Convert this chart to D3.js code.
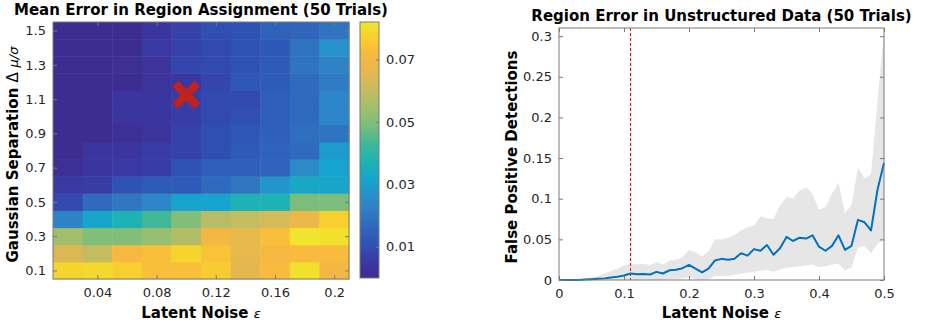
<!DOCTYPE html>
<html>
<head>
<meta charset="utf-8">
<script src="https://cdn.jsdelivr.net/npm/d3@7.9.0/dist/d3.min.js"></script>
<style>
  body { margin: 0; background: #fff; }
  svg { display: block; font-family: "DejaVu Sans", sans-serif; }
  .ttl { font-weight: bold; font-size: 15px; fill: #000; }
  .lbl { font-weight: bold; font-size: 15px; fill: #000; }
</style>
</head>
<body>
<svg width="926" height="327"></svg>
<script>
// ---- data: left heatmap ----
const noiseLevels = [0.02, 0.04, 0.06, 0.08, 0.10, 0.12, 0.14, 0.16, 0.18, 0.20];
const separations = [0.1, 0.2, 0.3, 0.4, 0.5, 0.6, 0.7, 0.8, 0.9, 1.0, 1.1, 1.2, 1.3, 1.4, 1.5];
// rows follow separations (0.1 first), columns follow noiseLevels
const meanError = [
  [0.078, 0.079, 0.077, 0.073, 0.073, 0.076, 0.066, 0.072, 0.081, 0.070],
  [0.064, 0.060, 0.071, 0.073, 0.078, 0.074, 0.067, 0.071, 0.072, 0.072],
  [0.055, 0.050, 0.050, 0.053, 0.057, 0.070, 0.067, 0.073, 0.082, 0.081],
  [0.023, 0.032, 0.037, 0.043, 0.050, 0.058, 0.060, 0.063, 0.068, 0.077],
  [0.009, 0.017, 0.020, 0.024, 0.031, 0.031, 0.037, 0.037, 0.049, 0.049],
  [0.005, 0.006, 0.011, 0.013, 0.013, 0.017, 0.020, 0.028, 0.033, 0.032],
  [0.001, 0.004, 0.005, 0.006, 0.011, 0.014, 0.014, 0.015, 0.025, 0.031],
  [0.000, 0.004, 0.004, 0.006, 0.007, 0.010, 0.013, 0.015, 0.017, 0.029],
  [0.000, 0.000, 0.001, 0.003, 0.007, 0.010, 0.012, 0.014, 0.018, 0.019],
  [0.000, 0.000, 0.004, 0.004, 0.006, 0.009, 0.010, 0.014, 0.017, 0.024],
  [0.000, 0.000, 0.004, 0.004, 0.006, 0.009, 0.009, 0.014, 0.017, 0.024],
  [0.000, 0.000, 0.000, 0.003, 0.004, 0.008, 0.012, 0.013, 0.017, 0.021],
  [0.000, 0.000, 0.001, 0.003, 0.008, 0.009, 0.011, 0.013, 0.019, 0.023],
  [0.000, 0.000, 0.000, 0.005, 0.007, 0.009, 0.011, 0.012, 0.019, 0.027],
  [0.000, 0.000, 0.000, 0.004, 0.007, 0.010, 0.011, 0.015, 0.016, 0.019]
];
const chosenPoint = { noise: 0.10, sep: 1.125 };
const heatXTicks = [0.04, 0.08, 0.12, 0.16, 0.2];
const heatYTicks = [0.1, 0.3, 0.5, 0.7, 0.9, 1.1, 1.3, 1.5];
const colorTicks = [0.01, 0.03, 0.05, 0.07];
const colorMax = 0.082;

// ---- data: right line chart ----
const epsilons = [0, 0.01, 0.02, 0.03, 0.04, 0.05, 0.06, 0.07, 0.08, 0.09, 0.10,
  0.11, 0.12, 0.13, 0.14, 0.15, 0.16, 0.17, 0.18, 0.19, 0.20,
  0.21, 0.22, 0.23, 0.24, 0.25, 0.26, 0.27, 0.28, 0.29, 0.30,
  0.31, 0.32, 0.33, 0.34, 0.35, 0.36, 0.37, 0.38, 0.39, 0.40,
  0.41, 0.42, 0.43, 0.44, 0.45, 0.46, 0.47, 0.48, 0.49, 0.50];
const meanFP = [0, 0, 0, 0, 0.0005, 0.001, 0.0015, 0.002, 0.003, 0.004, 0.0055,
  0.008, 0.007, 0.0075, 0.0068, 0.010, 0.008, 0.012, 0.0125, 0.0145, 0.0185,
  0.014, 0.0095, 0.014, 0.024, 0.026, 0.025, 0.026, 0.033, 0.030, 0.038,
  0.036, 0.043, 0.031, 0.039, 0.053, 0.048, 0.052, 0.051, 0.055, 0.041,
  0.036, 0.042, 0.055, 0.037, 0.042, 0.074, 0.071, 0.061, 0.111, 0.144];
const upperFP = [0, 0, 0, 0, 0.001, 0.003, 0.005, 0.008, 0.011, 0.014, 0.018,
  0.020, 0.019, 0.020, 0.018, 0.022, 0.019, 0.024, 0.025, 0.028, 0.037,
  0.034, 0.029, 0.035, 0.050, 0.050, 0.052, 0.055, 0.061, 0.065, 0.067,
  0.078, 0.076, 0.075, 0.092, 0.102, 0.100, 0.110, 0.114, 0.106, 0.086,
  0.090, 0.106, 0.120, 0.082, 0.092, 0.139, 0.125, 0.130, 0.220, 0.305];
const lowerFP = [0, 0, 0, 0, 0, 0, 0, 0, 0, 0, 0,
  0, 0, 0, 0, 0, 0, 0.001, 0.001, 0.002, 0.003,
  0.001, 0, 0.001, 0.005, 0.005, 0.005, 0.006, 0.008, 0.009, 0.010,
  0.011, 0.012, 0.010, 0.013, 0.015, 0.016, 0.017, 0.018, 0.019, 0.016,
  0.017, 0.019, 0.020, 0.012, 0.015, 0.040, 0.042, 0.033, 0.045, 0.049];
const threshold = 0.11;
const lineXTicks = [0, 0.1, 0.2, 0.3, 0.4, 0.5];
const lineYTicks = [0, 0.05, 0.1, 0.15, 0.2, 0.25, 0.3];

// parula-like colormap
const cmapStops = [0, 0.06, 0.13, 0.2, 0.26, 0.32, 0.375, 0.45, 0.52, 0.6, 0.68, 0.74, 0.8, 0.87, 0.93, 1];
const cmapColors = ['#3e2d91', '#3a38a2', '#2f52b5', '#2f68bd', '#307cc3', '#2a8fcb', '#16a2ce', '#1db2b4',
  '#3cb89a', '#7dbe7a', '#a9bf69', '#c8bb60', '#e2b850', '#f8b840', '#f8cd2f', '#f0e52c'];
const color = d3.scaleLinear()
  .domain(cmapStops.map(t => t * colorMax))
  .range(cmapColors)
  .clamp(true);

const svg = d3.select('svg');
const boxColor = '#7a7a7a';

function styleAxis(g) {
  g.attr('font-family', '"DejaVu Sans", sans-serif').attr('font-size', 13);
  g.select('.domain').remove();
  g.selectAll('.tick line').attr('stroke', boxColor);
  g.selectAll('.tick text').attr('fill', '#262626');
}

// ===== left heatmap =====
const H = { x0: 53, x1: 349, y0: 22, y1: 279 };
const hx = d3.scaleLinear().domain([0.01, 0.21]).range([H.x0, H.x1]);
const hy = d3.scaleLinear().domain([0.05, 1.55]).range([H.y1, H.y0]);

const cells = [];
separations.forEach((s, i) => {
  noiseLevels.forEach((n, j) => cells.push({ s, n, v: meanError[i][j] }));
});

svg.append('g').selectAll('rect').data(cells).join('rect')
  .attr('x', d => hx(d.n - 0.01))
  .attr('y', d => hy(d.s + 0.05))
  .attr('width', d => hx(d.n + 0.01) - hx(d.n - 0.01) + 0.5)
  .attr('height', d => hy(d.s - 0.05) - hy(d.s + 0.05) + 0.5)
  .attr('fill', d => color(d.v));

// chosen point marker
const mx = hx(chosenPoint.noise), my = hy(chosenPoint.sep);
const mk = svg.append('g').attr('stroke', '#c1221b').attr('stroke-width', 8);
mk.append('line').attr('x1', mx - 11).attr('y1', my - 11).attr('x2', mx + 11).attr('y2', my + 11);
mk.append('line').attr('x1', mx - 11).attr('y1', my + 11).attr('x2', mx + 11).attr('y2', my - 11);

svg.append('g').attr('transform', `translate(0,${H.y1})`)
  .call(d3.axisBottom(hx).tickValues(heatXTicks).tickFormat(d3.format('')).tickSizeInner(-4).tickPadding(9))
  .call(styleAxis);
svg.append('g').attr('transform', `translate(0,${H.y0})`)
  .call(d3.axisTop(hx).tickValues(heatXTicks).tickFormat('').tickSizeInner(-4))
  .call(styleAxis);
svg.append('g').attr('transform', `translate(${H.x0},0)`)
  .call(d3.axisLeft(hy).tickValues(heatYTicks).tickFormat(d3.format('.1f')).tickSizeInner(-4).tickPadding(7))
  .call(styleAxis);
svg.append('g').attr('transform', `translate(${H.x1},0)`)
  .call(d3.axisRight(hy).tickValues(heatYTicks).tickFormat('').tickSizeInner(-4))
  .call(styleAxis);
svg.append('rect').attr('x', H.x0).attr('y', H.y0)
  .attr('width', H.x1 - H.x0).attr('height', H.y1 - H.y0)
  .attr('fill', 'none').attr('stroke', boxColor);

svg.append('text').attr('class', 'ttl')
  .attr('x', (H.x0 + H.x1) / 2).attr('y', 15).attr('text-anchor', 'middle')
  .text('Mean Error in Region Assignment (50 Trials)');

const hxl = svg.append('text').attr('class', 'lbl')
  .attr('x', (H.x0 + H.x1) / 2).attr('y', 318).attr('text-anchor', 'middle');
hxl.append('tspan').text('Latent Noise ');
hxl.append('tspan').attr('font-weight', 'normal').attr('font-style', 'italic').attr('font-size', 13).text('ε');

const hyl = svg.append('text').attr('class', 'lbl')
  .attr('transform', `translate(18,${(H.y0 + H.y1) / 2 + 4}) rotate(-90)`)
  .attr('text-anchor', 'middle');
hyl.append('tspan').text('Gaussian Separation ');
hyl.append('tspan').attr('font-weight', 'normal').text('Δ ');
hyl.append('tspan').attr('font-weight', 'normal').attr('font-style', 'italic').attr('font-size', 13).text('μ/σ');

// colorbar
const C = { x0: 360, x1: 379, y0: 22, y1: 278 };
const cy = d3.scaleLinear().domain([0, colorMax]).range([C.y1, C.y0]);
const defs = svg.append('defs');
const grad = defs.append('linearGradient').attr('id', 'cbar')
  .attr('x1', 0).attr('y1', 1).attr('x2', 0).attr('y2', 0);
grad.selectAll('stop').data(cmapStops).join('stop')
  .attr('offset', d => d)
  .attr('stop-color', (d, i) => cmapColors[i]);
svg.append('rect').attr('x', C.x0).attr('y', C.y0)
  .attr('width', C.x1 - C.x0).attr('height', C.y1 - C.y0)
  .attr('fill', 'url(#cbar)').attr('stroke', boxColor);
svg.append('g').attr('transform', `translate(${C.x1},0)`)
  .call(d3.axisRight(cy).tickValues(colorTicks).tickFormat(d3.format('.2f')).tickSizeInner(-3).tickPadding(7))
  .call(styleAxis);

// ===== right line chart =====
const R = { x0: 559, x1: 884, y0: 28, y1: 280 };
const rx = d3.scaleLinear().domain([0, 0.5]).range([R.x0, R.x1]);
const ry = d3.scaleLinear().domain([0, 0.31]).range([R.y1, R.y0]);
const pts = epsilons.map((e, i) => ({ e, m: meanFP[i], lo: lowerFP[i], hi: upperFP[i] }));

svg.append('path').datum(pts)
  .attr('fill', '#e6e6e6')
  .attr('d', d3.area().x(d => rx(d.e)).y0(d => ry(d.lo)).y1(d => ry(d.hi)));

svg.append('line')
  .attr('x1', rx(threshold)).attr('x2', rx(threshold))
  .attr('y1', R.y0).attr('y2', R.y1)
  .attr('stroke', '#ff0000').attr('stroke-width', 1).attr('stroke-dasharray', '3,2');

svg.append('path').datum(pts)
  .attr('fill', 'none').attr('stroke', '#0072bd').attr('stroke-width', 2)
  .attr('stroke-linejoin', 'round')
  .attr('d', d3.line().x(d => rx(d.e)).y(d => ry(d.m)));

svg.append('g').attr('transform', `translate(0,${R.y1})`)
  .call(d3.axisBottom(rx).tickValues(lineXTicks).tickFormat(d3.format('')).tickSizeInner(-4).tickPadding(9))
  .call(styleAxis);
svg.append('g').attr('transform', `translate(0,${R.y0})`)
  .call(d3.axisTop(rx).tickValues(lineXTicks).tickFormat('').tickSizeInner(-4))
  .call(styleAxis);
svg.append('g').attr('transform', `translate(${R.x0},0)`)
  .call(d3.axisLeft(ry).tickValues(lineYTicks).tickFormat(d3.format('')).tickSizeInner(-4).tickPadding(7))
  .call(styleAxis);
svg.append('g').attr('transform', `translate(${R.x1},0)`)
  .call(d3.axisRight(ry).tickValues(lineYTicks).tickFormat('').tickSizeInner(-4))
  .call(styleAxis);
svg.append('rect').attr('x', R.x0).attr('y', R.y0)
  .attr('width', R.x1 - R.x0).attr('height', R.y1 - R.y0)
  .attr('fill', 'none').attr('stroke', boxColor);

svg.append('text').attr('class', 'ttl')
  .attr('x', (R.x0 + R.x1) / 2).attr('y', 21).attr('text-anchor', 'middle')
  .text('Region Error in Unstructured Data (50 Trials)');

const rxl = svg.append('text').attr('class', 'lbl')
  .attr('x', (R.x0 + R.x1) / 2).attr('y', 318).attr('text-anchor', 'middle');
rxl.append('tspan').text('Latent Noise ');
rxl.append('tspan').attr('font-weight', 'normal').attr('font-style', 'italic').attr('font-size', 13).text('ε');

svg.append('text').attr('class', 'lbl')
  .attr('transform', `translate(517,${(R.y0 + R.y1) / 2 + 3}) rotate(-90)`)
  .attr('text-anchor', 'middle')
  .text('False Positive Detections');
</script>
</body>
</html>
